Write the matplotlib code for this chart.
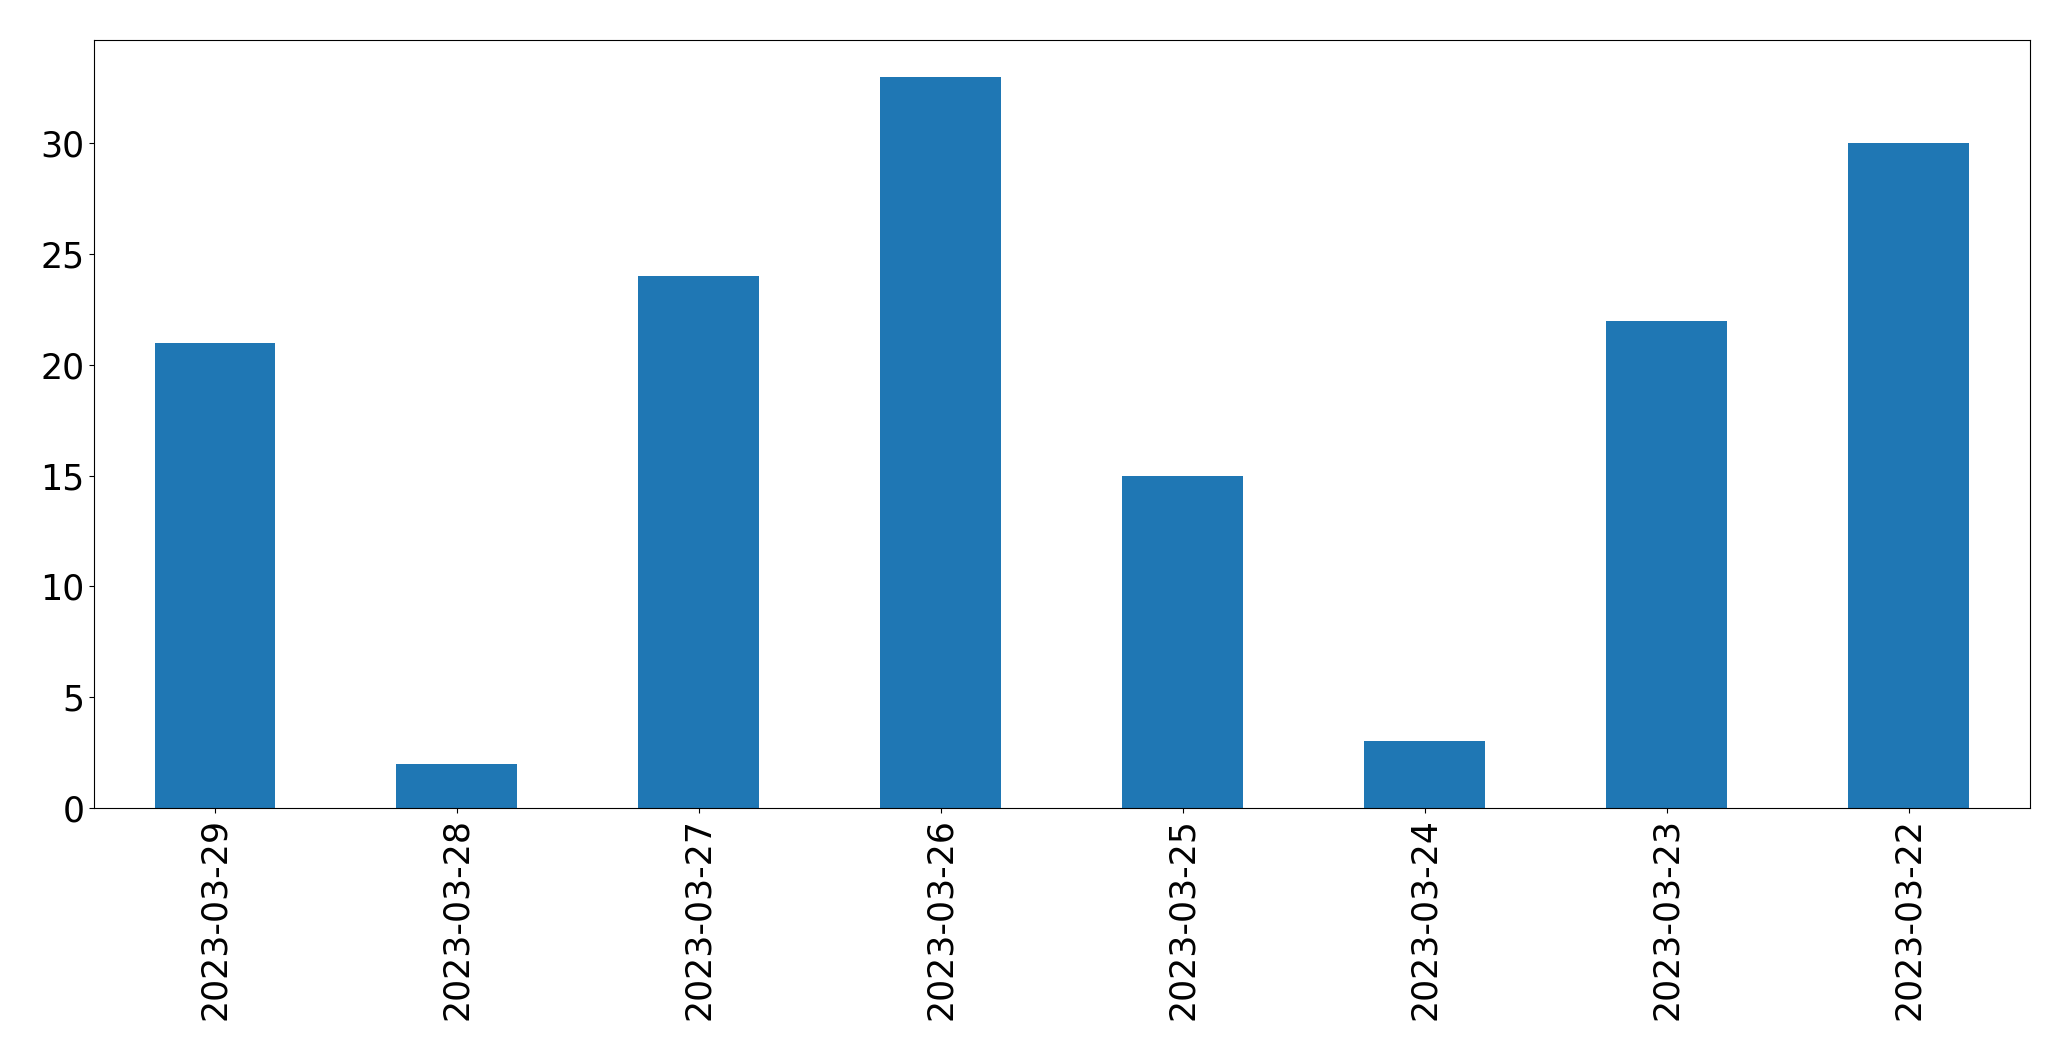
import matplotlib
matplotlib.use("Agg")
import matplotlib.pyplot as plt
import pandas as pd

dates = ["2023-03-29", "2023-03-28", "2023-03-27", "2023-03-26",
         "2023-03-25", "2023-03-24", "2023-03-23", "2023-03-22"]
counts = [21, 2, 24, 33, 15, 3, 22, 30]

s = pd.Series(counts, index=dates)

fig, ax = plt.subplots(figsize=(20.71, 10.61), dpi=100)
s.plot(kind="bar", ax=ax, color="#1f77b4", fontsize=25)
ax.set_xlabel("")
fig.subplots_adjust(left=0.0454, right=0.980, top=0.962, bottom=0.2385)
fig.savefig("out.png", dpi=100)
